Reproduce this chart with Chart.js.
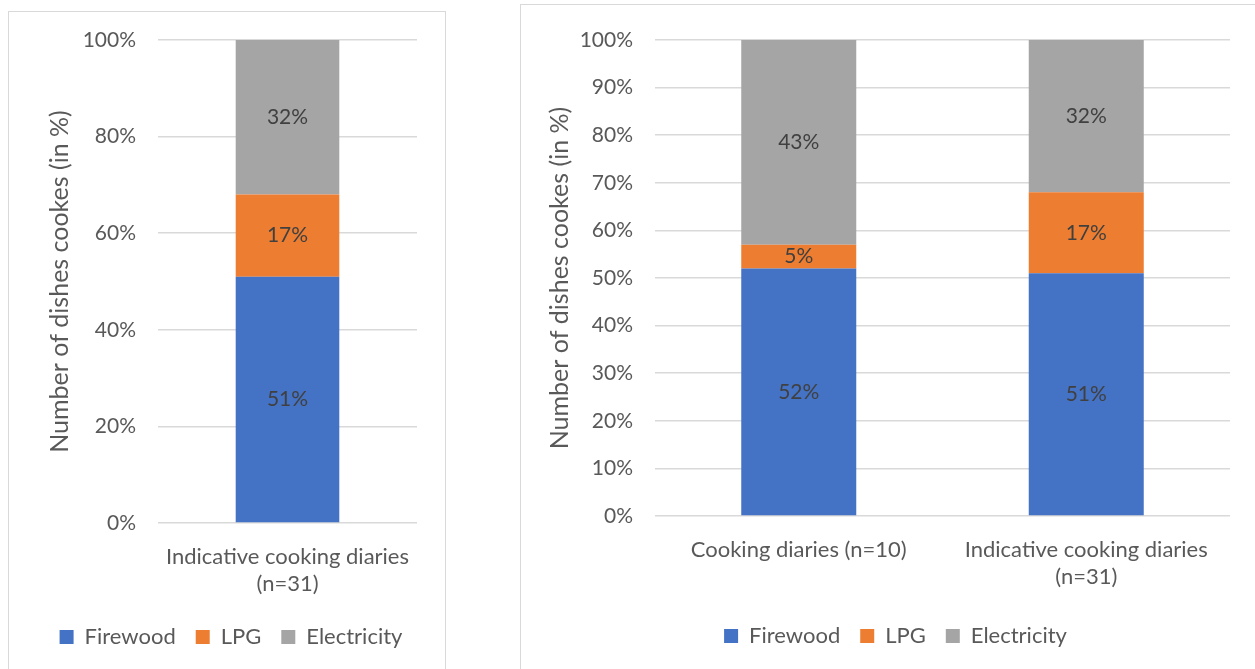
<!DOCTYPE html>
<html>
<head>
<meta charset="utf-8">
<script src="https://cdn.jsdelivr.net/npm/chart.js@4.4.1/dist/chart.umd.min.js"></script>
<style>
  html, body { margin: 0; padding: 0; background: #fff; width: 1255px; height: 669px; overflow: hidden; }
  .panel { position: absolute; border: 1px solid #d9d9d9; background: #fff; }
  #leftPanel { left: 8px; top: 11px; width: 436px; height: 680px; }
  #rightPanel { left: 520px; top: 4px; width: 750px; height: 690px; }
  canvas { position: absolute; left: 0; top: 0; }
  #leftChart { top: -7px; }
</style>
</head>
<body>
<div class="panel" id="leftPanel"><canvas id="leftChart" width="436" height="672"></canvas></div>
<div class="panel" id="rightPanel"><canvas id="rightChart" width="750" height="672"></canvas></div>
<script>
// Series names and colours
const seriesNames = ['Firewood', 'LPG', 'Electricity'];
const seriesColors = ['#4472C4', '#ED7D31', '#A5A5A5'];

// Left chart: indicative diaries only
const leftCategories = [['Indicative cooking diaries', '(n=31)']];
const leftFirewood = [51];
const leftLpg = [17];
const leftElectricity = [32];
const leftTickStep = 20;

// Right chart: cooking diaries vs indicative diaries
const rightCategories = ['Cooking diaries (n=10)', ['Indicative cooking diaries', '(n=31)']];
const rightFirewood = [52, 51];
const rightLpg = [5, 17];
const rightElectricity = [43, 32];
const rightTickStep = 10;

const yTitle = 'Number of dishes cookes (in %)';
const fontFamily = 'Lato, "Open Sans", sans-serif';
const textColor = '#595959';

// Writes the percentage in the middle of every stacked segment
const segmentLabels = {
  id: 'segmentLabels',
  afterDatasetsDraw(chart) {
    const ctx = chart.ctx;
    ctx.save();
    ctx.font = '21px ' + fontFamily;
    ctx.fillStyle = '#404040';
    ctx.textAlign = 'center';
    ctx.textBaseline = 'middle';
    chart.data.datasets.forEach((ds, i) => {
      chart.getDatasetMeta(i).data.forEach((bar, j) => {
        ctx.fillText(ds.data[j] + '%', bar.x, (bar.y + bar.base) / 2);
      });
    });
    ctx.restore();
  }
};

// Nudges the legend sideways after layout (it otherwise centres under the canvas)
const legendShift = {
  id: 'legendShift',
  afterLayout(chart, args, opts) {
    const lg = chart.legend;
    if (!lg || !opts.dx) return;
    lg.left += opts.dx;
    lg.right += opts.dx;
  }
};

function buildChart(canvasId, categories, values, tickStep, box) {
  const datasets = seriesNames.map((name, i) => ({
    label: name,
    data: values[i],
    backgroundColor: seriesColors[i],
    borderWidth: 0,
    categoryPercentage: 0.4,
    barPercentage: 1
  }));

  return new Chart(document.getElementById(canvasId), {
    type: 'bar',
    data: { labels: categories, datasets: datasets },
    options: {
      responsive: false,
      animation: false,
      layout: { padding: { left: 0, right: box.right, top: box.top, bottom: box.bottom } },
      plugins: {
        tooltip: { enabled: false },
        legendShift: { dx: box.legendDx },
        legend: {
          position: 'bottom',
          labels: {
            boxWidth: 14,
            boxHeight: 14,
            padding: 20,
            color: textColor,
            font: { family: fontFamily, size: 22 }
          }
        }
      },
      scales: {
        x: {
          stacked: true,
          grid: { display: false, drawTicks: false },
          border: { display: false },
          ticks: {
            color: textColor,
            padding: 20,
            maxRotation: 0,
            font: { family: fontFamily, size: 22, lineHeight: 1.25 }
          },
          afterFit(scale) { scale.height = box.xHeight; }
        },
        y: {
          stacked: true,
          min: 0,
          max: 100,
          grid: { color: '#d9d9d9', lineWidth: 1.5, drawTicks: false },
          border: { display: false },
          ticks: {
            stepSize: tickStep,
            color: textColor,
            padding: 22,
            font: { family: fontFamily, size: 21 },
            callback: v => v + '%'
          },
          title: {
            display: true,
            text: yTitle,
            color: textColor,
            padding: { top: box.titlePad, bottom: 0 },
            font: { family: fontFamily, size: 25 }
          },
          afterFit(scale) { scale.width = box.yWidth; }
        }
      }
    },
    plugins: [segmentLabels, legendShift]
  });
}

buildChart('leftChart', leftCategories, [leftFirewood, leftLpg, leftElectricity], leftTickStep,
  { right: 28, top: 35, bottom: 19, xHeight: 83, yWidth: 149, titlePad: 36, legendDx: 18 });

buildChart('rightChart', rightCategories, [rightFirewood, rightLpg, rightElectricity], rightTickStep,
  { right: 41, top: 35, bottom: 20, xHeight: 89, yWidth: 134, titlePad: 24, legendDx: 20 });
</script>
</body>
</html>
